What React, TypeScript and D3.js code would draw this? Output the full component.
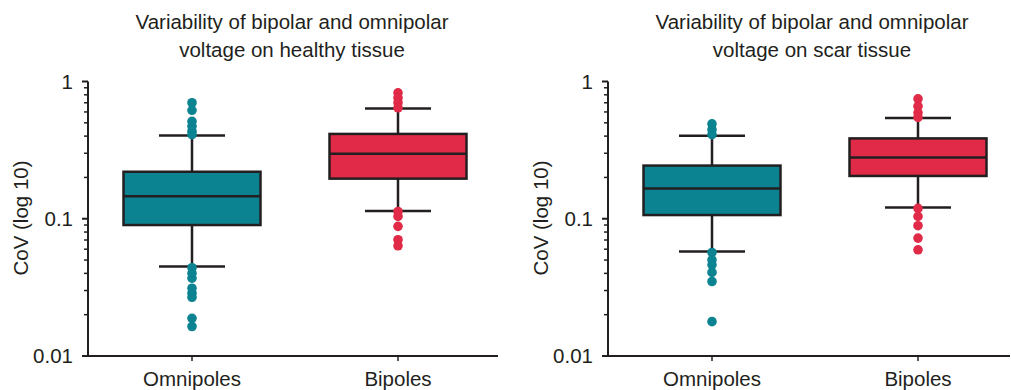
import React from "react";
import * as d3 from "d3";

const categories = ["Omnipoles", "Bipoles"];
const panelTitles = [
  ["Variability of bipolar and omnipolar", "voltage on healthy tissue"],
  ["Variability of bipolar and omnipolar", "voltage on scar tissue"],
];
const yTickValues = [1, 0.1, 0.01];
const yTickLabels = ["1", "0.1", "0.01"];
const yAxisLabel = "CoV (log 10)";

// [lowerWhisker, q1, median, q3, upperWhisker]
const healthyOmni = [0.0449, 0.090, 0.1456, 0.220, 0.404];
const healthyBi = [0.114, 0.196, 0.297, 0.415, 0.635];
const scarOmni = [0.0577, 0.1064, 0.166, 0.244, 0.402];
const scarBi = [0.121, 0.205, 0.279, 0.385, 0.543];

const healthyOmniOutliers = [0.70, 0.617, 0.513, 0.472, 0.434, 0.41, 0.044, 0.0401, 0.0369, 0.0312, 0.0287, 0.0268, 0.0188, 0.0164];
const healthyBiOutliers = [0.827, 0.76, 0.70, 0.643, 0.113, 0.104, 0.088, 0.0703, 0.0635];
const scarOmniOutliers = [0.491, 0.446, 0.41, 0.0568, 0.0502, 0.0462, 0.0406, 0.0349, 0.0178];
const scarBiOutliers = [0.748, 0.66, 0.591, 0.548, 0.119, 0.104, 0.089, 0.0723, 0.0594];

const colors = ["#0b8391", "#e02a47"];

const panels = [
  { stats: [healthyOmni, healthyBi], outliers: [healthyOmniOutliers, healthyBiOutliers], title: panelTitles[0], x0: 88, x1: 498 },
  { stats: [scarOmni, scarBi], outliers: [scarOmniOutliers, scarBiOutliers], title: panelTitles[1], x0: 608, x1: 1010 },
];

const FONT = "'Liberation Sans', Arial, Helvetica, sans-serif";
const INK = "#231f20";
const FS = 20.5;

function Panel({ p }: { p: typeof panels[number] }) {
  const y = d3.scaleLog().domain([0.01, 1]).range([356, 81.5]);
  const x = d3
    .scalePoint<string>()
    .domain(categories)
    .range([p.x0 + 104, p.x0 + 310]);
  const minor: number[] = [];
  [0.01, 0.1].forEach((d) => {
    for (let k = 2; k <= 9; k++) minor.push(d * k);
  });
  const boxW = 137;
  const capW = 66;
  const titleX = (x(categories[0])! + x(categories[1])!) / 2 - 3;
  return (
    <g>
      <text x={titleX} y={29} textAnchor="middle" fontFamily={FONT} fontSize={FS} fill={INK}>
        {p.title[0]}
      </text>
      <text x={titleX} y={56.5} textAnchor="middle" fontFamily={FONT} fontSize={FS} fill={INK}>
        {p.title[1]}
      </text>
      {/* y axis */}
      <line x1={p.x0} x2={p.x0} y1={y(1)} y2={y(0.01) + 1} stroke={INK} strokeWidth={2} />
      {yTickValues.map((v, i) => (
        <g key={v}>
          <line x1={p.x0 - 6} x2={p.x0} y1={y(v)} y2={y(v)} stroke={INK} strokeWidth={2} />
          <text x={p.x0 - 15} y={y(v) + 7} textAnchor="end" fontFamily={FONT} fontSize={FS} fill={INK}>
            {yTickLabels[i]}
          </text>
        </g>
      ))}
      {minor.map((v) => (
        <line key={v} x1={p.x0 - 4} x2={p.x0} y1={y(v)} y2={y(v)} stroke={INK} strokeWidth={1.5} />
      ))}
      <text
        transform={`translate(${p.x0 - 60},${218}) rotate(-90)`}
        textAnchor="middle"
        fontFamily={FONT}
        fontSize={FS}
        fill={INK}
      >
        {yAxisLabel}
      </text>
      {/* x axis */}
      <line x1={p.x0 - 1} x2={p.x1} y1={y(0.01)} y2={y(0.01)} stroke={INK} strokeWidth={2} />
      {categories.map((c) => (
        <g key={c}>
          <line x1={x(c)} x2={x(c)} y1={y(0.01)} y2={y(0.01) + 5} stroke={INK} strokeWidth={1.5} />
          <text x={x(c)} y={386} textAnchor="middle" fontFamily={FONT} fontSize={FS} fill={INK}>
            {c}
          </text>
        </g>
      ))}
      {/* boxes */}
      {categories.map((c, i) => {
        const [lw, q1, med, q3, uw] = p.stats[i];
        const xc = x(c)!;
        return (
          <g key={c}>
            <line x1={xc} x2={xc} y1={y(uw)} y2={y(q3)} stroke={INK} strokeWidth={2.5} />
            <line x1={xc} x2={xc} y1={y(q1)} y2={y(lw)} stroke={INK} strokeWidth={2.5} />
            <line x1={xc - capW / 2} x2={xc + capW / 2} y1={y(uw)} y2={y(uw)} stroke={INK} strokeWidth={2.5} />
            <line x1={xc - capW / 2} x2={xc + capW / 2} y1={y(lw)} y2={y(lw)} stroke={INK} strokeWidth={2.5} />
            <rect
              x={xc - boxW / 2}
              y={y(q3)}
              width={boxW}
              height={y(q1) - y(q3)}
              fill={colors[i]}
              stroke={INK}
              strokeWidth={2.5}
            />
            <line x1={xc - boxW / 2} x2={xc + boxW / 2} y1={y(med)} y2={y(med)} stroke={INK} strokeWidth={2.5} />
            {p.outliers[i].map((o, j) => (
              <circle key={j} cx={xc} cy={y(o)} r={4.8} fill={colors[i]} />
            ))}
          </g>
        );
      })}
    </g>
  );
}

export default function App() {
  return (
    <svg width={1011} height={390} style={{ display: "block", position: "absolute", left: 0, top: 0, background: "#fff" }}>
      <rect width={1011} height={390} fill="#fff" />
      {panels.map((p, i) => (
        <Panel key={i} p={p} />
      ))}
    </svg>
  );
}
